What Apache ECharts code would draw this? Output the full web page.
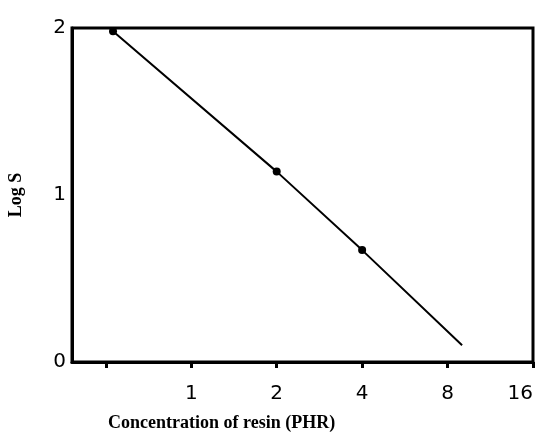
<!DOCTYPE html>
<html>
<head>
<meta charset="utf-8">
<script src="https://cdn.jsdelivr.net/npm/echarts@6/dist/echarts.min.js"></script>
<style>
  html, body { margin: 0; padding: 0; background: #fff; }
  #main { width: 539px; height: 440px; }
</style>
</head>
<body>
<div id="main"></div>
<script>
// values
const concentration = [0.53, 2.0, 4.0, 9.0]   // PHR, log2 axis
const logS = [1.98, 1.14, 0.67, 0.1]
const xTicks = [0.5, 1, 2, 4, 8, 16]
const xLabels = [1, 2, 4, 8, 16]
const yTicks = [0, 1, 2]

const chart = echarts.init(document.getElementById('main'))

// last point is the end of the drawn line, no dot there
const lineData = concentration.map((c, i) => ({
  value: [c, logS[i]],
  symbol: i === concentration.length - 1 ? 'none' : 'circle'
}))

const option = {
  animation: false,
  backgroundColor: '#fff',
  grid: {
    left: 72, right: 6, top: 28, bottom: 78,
    outerBoundsMode: 'none',
    containLabel: false,
    show: true,
    borderColor: '#000',
    borderWidth: 3
  },
  xAxis: {
    type: 'log',
    logBase: 2,
    min: 0.38,
    max: 16,
    axisLine: { show: true, lineStyle: { color: '#000', width: 3 } },
    axisTick: { show: true, length: 6, customValues: xTicks, lineStyle: { color: '#000', width: 3 } },
    axisLabel: {
      color: '#000',
      fontFamily: 'DejaVu Sans',
      fontSize: 20,
      margin: 22,
      customValues: xLabels,
      alignMaxLabel: 'right',
      formatter: v => String(Math.round(v))
    },
    splitLine: { show: false }
  },
  yAxis: {
    type: 'value',
    min: 0,
    max: 2,
    interval: 1,
    name: 'Log S',
    nameLocation: 'middle',
    nameGap: 47,
    nameTextStyle: { color: '#000', fontFamily: 'Liberation Serif', fontWeight: 'bold', fontSize: 18 },
    axisLine: { show: true, lineStyle: { color: '#000', width: 3 } },
    axisTick: { show: false },
    axisLabel: {
      color: '#000',
      fontFamily: 'DejaVu Sans',
      fontSize: 20,
      margin: 6,
      formatter: v => (yTicks.includes(v) ? String(v) : '')
    },
    splitLine: { show: false }
  },
  graphic: [{
    type: 'text',
    left: 108,
    top: 414,
    style: {
      text: 'Concentration of resin (PHR)',
      fill: '#000',
      font: 'bold 18px "Liberation Serif"'
    }
  }],
  series: [{
    type: 'line',
    data: lineData,
    symbolSize: 8,
    itemStyle: { color: '#000' },
    lineStyle: { color: '#000', width: 2 }
  }]
}

chart.setOption(option)
</script>
</body>
</html>
